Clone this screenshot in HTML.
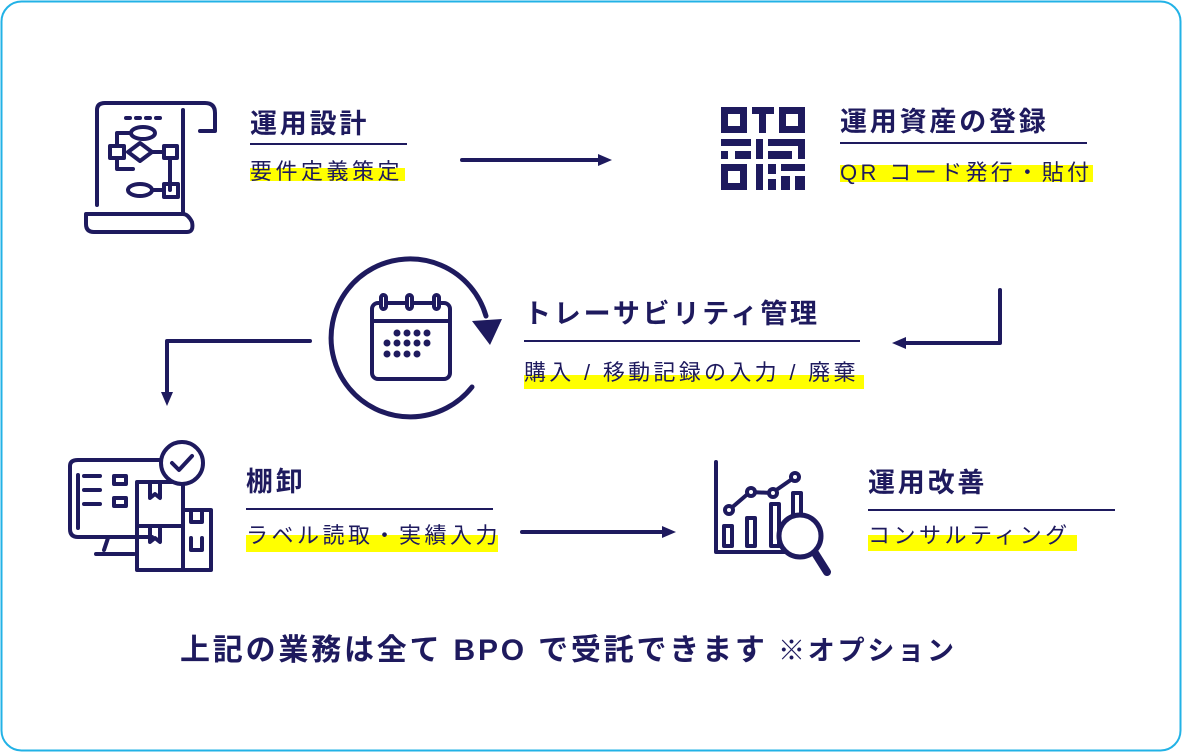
<!DOCTYPE html>
<html><head><meta charset="utf-8"><style>
html,body{margin:0;padding:0;background:#fff;}
svg{display:block;}
text{font-family:"Liberation Sans","Noto Sans CJK JP",sans-serif;fill:#1e1a5e;}
.t{font-size:27px;font-weight:bold;letter-spacing:2.8px;}
.s{font-size:22px;letter-spacing:3.5px;}
</style></head><body>
<svg width="1182" height="752" viewBox="0 0 1182 752" xmlns="http://www.w3.org/2000/svg">
<rect x="1.5" y="1.5" width="1179" height="749" rx="20" fill="#fff" stroke="#22b2e6" stroke-width="2"/>
<g stroke="#1e1a5e" fill="none" stroke-width="4" stroke-linecap="round" stroke-linejoin="round">
<path d="M97 205 V110 Q97 103 105 103 H205 Q215 103 215 113 V131 H200"/>
<path d="M86 215 V224 Q86 232 94 232 H187 Q194 232 192 222 Q188 214 183 214 H86 Z"/>
<path d="M183 214 V110"/>
<path d="M126 118 H164" stroke-dasharray="4 6"/>
<ellipse cx="143" cy="133" rx="12" ry="6"/>
<path d="M128 152 L140 143 L152 152 L140 161 Z"/>
<rect x="110" y="146" width="14" height="12"/><rect x="164" y="146" width="13" height="12"/>
<path d="M117 158 V169 H133 M131 133 H117 V146 M152 152 H164 M170 158 V190"/>
<ellipse cx="140" cy="190" rx="12" ry="6"/><rect x="164" y="184" width="14" height="13"/>
<path d="M152 190 H164"/>
<path d="M462 160 H605"/>
<path d="M1000 290 V343 H900"/>
<path d="M310 341 H167 V398"/>
<path d="M522 532 H668"/>
<path d="M472 387 A79 79 0 1 1 486 316" stroke-width="5"/>
<rect x="372" y="303" width="78" height="76" rx="6"/>
<path d="M372 321 H450"/>
<rect x="381" y="295" width="5" height="14" rx="2.5" fill="#fff"/><rect x="407" y="295" width="5" height="14" rx="2.5" fill="#fff"/><rect x="434" y="295" width="5" height="14" rx="2.5" fill="#fff"/>
<path d="M152 537 H78 Q70 537 70 529 V466 Q70 460 78 460 H160"/>
<path d="M78 475 V528 M84 476 H100 M84 490 H100 M84 504 H100"/><rect x="114" y="476" width="12" height="8"/><rect x="114" y="498" width="12" height="8"/>
<path d="M108 538 L104 550 M96 554 H134"/>
<rect x="137" y="482" width="46" height="44"/><rect x="137" y="526" width="46" height="44"/><rect x="183" y="510" width="28" height="60"/>
<path d="M150 482 V498 L155 494 L160 498 V482 M150 526 V542 L155 538 L160 542 V526 M191 512 V522 H202 V512 M191 538 V550 H202 V538"/>
<circle cx="182" cy="463" r="21" fill="#fff"/>
<path d="M172 463 L179 470 L192 456"/>
<path d="M716 462 V552 H800"/>
<rect x="724" y="526" width="8" height="20"/><rect x="747" y="518" width="8" height="28"/><rect x="771" y="504" width="8" height="42"/><rect x="793" y="493" width="8" height="30"/>
<path d="M729 510 L750 492 L772 493 L795 477"/>
<circle cx="729" cy="510" r="4" fill="#fff"/><circle cx="751" cy="492" r="4" fill="#fff"/><circle cx="773" cy="493" r="4" fill="#fff"/><circle cx="795" cy="477" r="4" fill="#fff"/>
<circle cx="800" cy="536" r="21" fill="#fff" stroke-width="5"/>
<path d="M815 553 L827 572" stroke-width="8"/>
</g>
<g fill="#1e1a5e">
<path d="M612 160 L598 154 V166 Z"/>
<path d="M892 343 L906 337 V349 Z"/>
<path d="M167 406 L161 392 H173 Z"/>
<path d="M676 532 L662 526 V538 Z"/>
<path d="M472 321 L502 319 L490 345 Z"/>
<circle cx="397" cy="333" r="3.5"/><circle cx="407" cy="333" r="3.5"/><circle cx="417" cy="333" r="3.5"/><circle cx="427" cy="333" r="3.5"/>
<circle cx="387" cy="343" r="3.5"/><circle cx="397" cy="343" r="3.5"/><circle cx="407" cy="343" r="3.5"/><circle cx="417" cy="343" r="3.5"/><circle cx="427" cy="343" r="3.5"/>
<circle cx="387" cy="354" r="3.5"/><circle cx="397" cy="354" r="3.5"/><circle cx="407" cy="354" r="3.5"/><circle cx="417" cy="354" r="3.5"/>
<path fill-rule="evenodd" d="M721 107h26v26h-26z M728 114v12h12v-12z"/>
<path fill-rule="evenodd" d="M779 107h26v26h-26z M786 114v12h12v-12z"/>
<path fill-rule="evenodd" d="M721 164h26v26h-26z M728 171v12h12v-12z"/>
<path d="M752 107h22v7h-8v19h-7v-19h-7z M721 139h30v7h-30z M756 139h7v20h-7z M768 139h37v7h-37z M798 146h7v13h-7z M721 151h7v8h-7z M735 151h16v8h-16z M768 151h24v8h-24z M756 164h7v26h-7z M768 164h8v10h-8z M781 164h24v7h-24z M768 179h8v11h-8z M781 176h9v14h-9z M795 176h10v14h-10z"/>
</g>
<g fill="#ffff00">
<rect x="250" y="168" width="155" height="13"/>
<rect x="840" y="165" width="253" height="17"/>
<rect x="524" y="375" width="340" height="14"/>
<rect x="246" y="535" width="252" height="17"/>
<rect x="868" y="535" width="209" height="16"/>
</g>
<g fill="#1e1a5e">
<rect x="250" y="143" width="157" height="2"/>
<rect x="840" y="142" width="247" height="2"/>
<rect x="524" y="340" width="336" height="2"/>
<rect x="246" y="508" width="247" height="2"/>
<rect x="868" y="509" width="247" height="2"/>
</g>
<text class="t" x="250" y="133">運用設計</text>
<text class="s" x="250" y="179">要件定義策定</text>
<text class="t" x="840" y="131">運用資産の登録</text>
<text class="s" x="840" y="180" style="letter-spacing:3.4px">QR コード発行・貼付</text>
<text class="t" x="524" y="323">トレーサビリティ管理</text>
<text class="s" x="524" y="380" style="letter-spacing:3.3px">購入 / 移動記録の入力 / 廃棄</text>
<text class="t" x="246" y="491">棚卸</text>
<text class="s" x="246" y="543">ラベル読取・実績入力</text>
<text class="t" x="868" y="492">運用改善</text>
<text class="s" x="868" y="543">コンサルティング</text>
<text x="180" y="660" style="font-size:30px;font-weight:bold;letter-spacing:2.8px;">上記の業務は全て BPO で受託できます<tspan style="font-size:27px;"> ※オプション</tspan></text>
</svg>
</body></html>
